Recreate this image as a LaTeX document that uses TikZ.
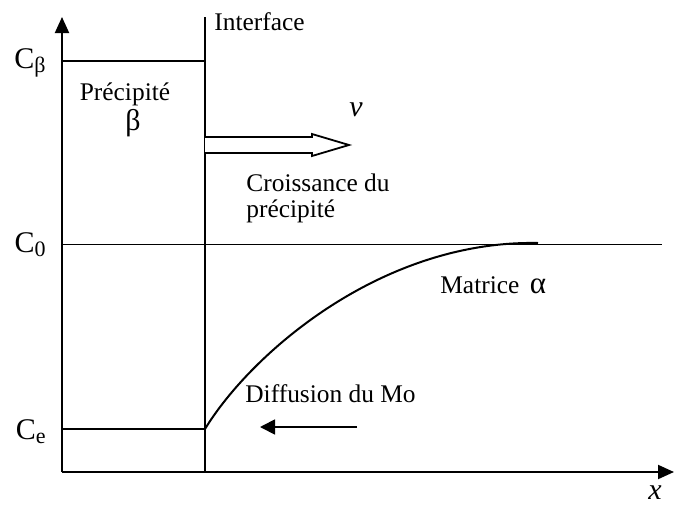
\documentclass[tikz,border=0pt]{standalone}
\usepackage{fontspec}
\setmainfont{Liberation Serif}
\usetikzlibrary{arrows.meta}
\newcommand{\indice}[1]{\raisebox{-2pt}{\fontsize{11}{12}\selectfont #1}}
\tikzset{
  trait/.style={line width=1pt},
  fleche/.style={line width=1pt, -{Triangle[length=8pt,width=7pt]}},
  texte/.style={font=\fontsize{12.7}{15}\selectfont, inner sep=0pt},
  niveau/.style={font=\fontsize{15}{18}\selectfont, inner sep=0pt}
}
\begin{document}
\begin{tikzpicture}[x=0.5pt, y=-0.5pt, line join=miter, >=stealth]
  \useasboundingbox (0,0) rectangle (675,509);
  % 1. Axes
  \coordinate (O) at (62,472);
  \coordinate (Ymax) at (62,17);
  \coordinate (Xmax) at (674,472);
  \draw[fleche] (O) -- (Ymax);
  \draw[fleche] (O) -- (Xmax);
  \node[font=\fontsize{15}{18}\selectfont\itshape, inner sep=0pt] (xlab) at (655,493) {x};

  % 2. Interface
  \coordinate (Ibas) at (205,472);
  \coordinate (Ihaut) at (205,17);
  \draw[trait] (Ibas) -- (Ihaut);
  \node[texte, anchor=west] (interface) at (214,22) {Interface};

  % 3. Niveaux de concentration
  \draw[trait] (62,61) -- (205,61);
  \draw[line width=0.5pt] (62,244) -- (662,244);
  \draw[trait] (62,429) -- (205,429);
  \node[niveau, anchor=east] (cb) at (46,63) {C\indice{β}};
  \node[niveau, anchor=east] (c0) at (46,245) {C\indice{0}};
  \node[niveau, anchor=east] (ce) at (46,432) {C\indice{e}};

  % 4. Profil dans la matrice
  \draw[trait] (205,429) .. controls (250,355) and (380,240) .. (538,243);

  % 5. Precipite
  \node[texte] (prec) at (125,94) {Précipité};
  \node[font=\fontsize{15}{18}\selectfont, inner sep=0pt] (beta) at (133,123) {β};

  % 6. Fleche creuse (croissance)
  \draw[line width=0.9pt, fill=white]
    (205,137) -- (312,137) -- (312,134) -- (349,145)
    -- (312,156) -- (312,153) -- (205,153);
  \node[font=\fontsize{15}{18}\selectfont\itshape, inner sep=0pt] (vit) at (356,110) {v};
  \node[texte, anchor=west] (crois) at (246,183) {Croissance du};
  \node[texte, anchor=west] (crois2) at (246,211) {précipité};

  % 7. Matrice et diffusion
  \node[texte, anchor=west] (matrice) at (440,285) {Matrice\, {\fontsize{15.5}{18}\selectfont α}};
  \node[texte, anchor=west] (diff) at (245,394) {Diffusion du Mo};
  \coordinate (Dg) at (260,427);
  \coordinate (Dd) at (357,427);
  \draw[line width=0.9pt, -{Triangle[length=7.5pt,width=7.5pt]}] (Dd) -- (Dg);
\end{tikzpicture}
\end{document}
